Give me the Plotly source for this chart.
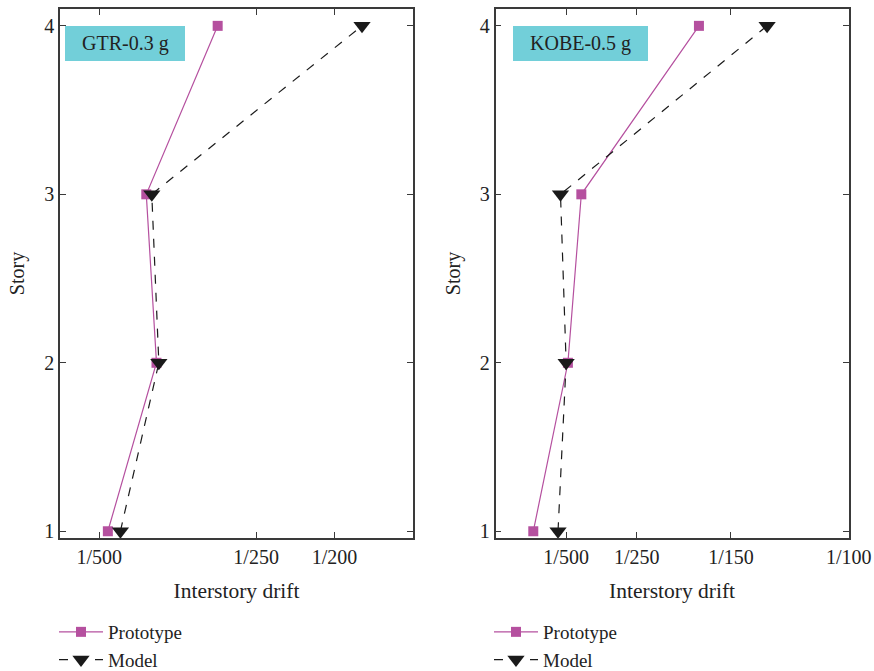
import plotly.graph_objects as go

# ---- data ----
stories = [1, 2, 3, 4]
gtr_prototype = [0.00211, 0.00273, 0.00260, 0.00351]
gtr_model = [0.00227, 0.00276, 0.00267, 0.00535]
kobe_prototype = [0.00107, 0.00205, 0.00243, 0.00576]
kobe_model = [0.00177, 0.00200, 0.00184, 0.00769]
gtr_ticks = [1/500, 1/250, 1/200]
gtr_ticktext = ["1/500", "1/250", "1/200"]
kobe_ticks = [1/500, 1/250, 1/150, 1/100]
kobe_ticktext = ["1/500", "1/250", "1/150", "1/100"]
story_ticks = [1, 2, 3, 4]
panel_labels = ["GTR-0.3 g", "KOBE-0.5 g"]
series_names = ["Prototype", "Model"]

PROTO_COLOR = "#B5509F"
MODEL_COLOR = "#1a1a1a"
FONT = "Liberation Serif"
AXIS_COLOR = "#3a3a3a"

fig = go.Figure()

panels = [
    (gtr_prototype, gtr_model, "x", "y", "legend"),
    (kobe_prototype, kobe_model, "x2", "y2", "legend2"),
]
for proto, model, xa, ya, lg in panels:
    fig.add_trace(go.Scatter(
        x=proto, y=stories, xaxis=xa, yaxis=ya, legend=lg,
        name=series_names[0], mode="lines+markers",
        line=dict(color=PROTO_COLOR, width=1.2),
        marker=dict(symbol="square", size=10, color=PROTO_COLOR),
        cliponaxis=False,
    ))
    fig.add_trace(go.Scatter(
        x=model, y=stories, xaxis=xa, yaxis=ya, legend=lg,
        name=series_names[1], mode="lines+markers",
        line=dict(color=MODEL_COLOR, width=1.2, dash="dash"),
        marker=dict(symbol="triangle-down", size=15, color=MODEL_COLOR),
        cliponaxis=False,
    ))

W, H = 874, 671
ytop, ybot = 9, 538
ydom = [1 - ybot / H, 1 - ytop / H]

common_x = dict(
    automargin=False,
    showline=True, mirror="allticks", linecolor=AXIS_COLOR, linewidth=1.5,
    ticks="inside", ticklen=6, tickcolor=AXIS_COLOR, tickwidth=1.2,
    showgrid=False, zeroline=False,
    tickfont=dict(family=FONT, size=20, color="#222"),
    title=dict(text="Interstory drift", font=dict(family=FONT, size=21.5, color="#222"), standoff=16),
)
common_y = dict(
    automargin=False,
    showline=True, mirror="allticks", linecolor=AXIS_COLOR, linewidth=1.5,
    ticks="inside", ticklen=6, tickcolor=AXIS_COLOR, tickwidth=1.2,
    showgrid=False, zeroline=False,
    tickvals=story_ticks, ticktext=[str(s) for s in story_ticks],
    range=[0.96, 4.1],
    tickfont=dict(family=FONT, size=20, color="#222"),
    title=dict(text="Story", font=dict(family=FONT, size=20, color="#222"), standoff=14),
)

legend_style = dict(font=dict(family=FONT, size=19, color="#222"),
                    bgcolor="rgba(0,0,0,0)", tracegroupgap=0, itemwidth=44,
                    xanchor="left", yanchor="top")

fig.update_layout(
    width=W, height=H,
    margin=dict(l=0, r=0, t=0, b=0, autoexpand=False),
    paper_bgcolor="white", plot_bgcolor="white",
    font=dict(family=FONT, color="#222"),
    xaxis=dict(common_x, domain=[60 / W, 413 / W], range=[0.0015, 0.006],
               tickvals=gtr_ticks, ticktext=gtr_ticktext, anchor="y"),
    yaxis=dict(common_y, domain=ydom, anchor="x"),
    xaxis2=dict(common_x, domain=[495.5 / W, 848.7 / W], range=[0.0, 0.01],
                tickvals=kobe_ticks, ticktext=kobe_ticktext, anchor="y2"),
    yaxis2=dict(common_y, domain=ydom, anchor="x2"),
    legend=dict(legend_style, x=54 / W, y=1 - 613 / H),
    legend2=dict(legend_style, x=489 / W, y=1 - 613 / H),
)

boxes = [(65, 185), (513, 648)]
for (x0, x1), label in zip(boxes, panel_labels):
    fig.add_shape(type="rect", xref="paper", yref="paper",
                  x0=x0 / W, x1=x1 / W, y0=1 - 61 / H, y1=1 - 26 / H,
                  fillcolor="#72CFD9", line=dict(width=0))
    fig.add_annotation(xref="paper", yref="paper",
                       x=(x0 + x1) / 2 / W, y=1 - 43.5 / H,
                       xanchor="center", yanchor="middle",
                       text=label, showarrow=False,
                       font=dict(family=FONT, size=20, color="#222"))

fig.write_html("out.html")
